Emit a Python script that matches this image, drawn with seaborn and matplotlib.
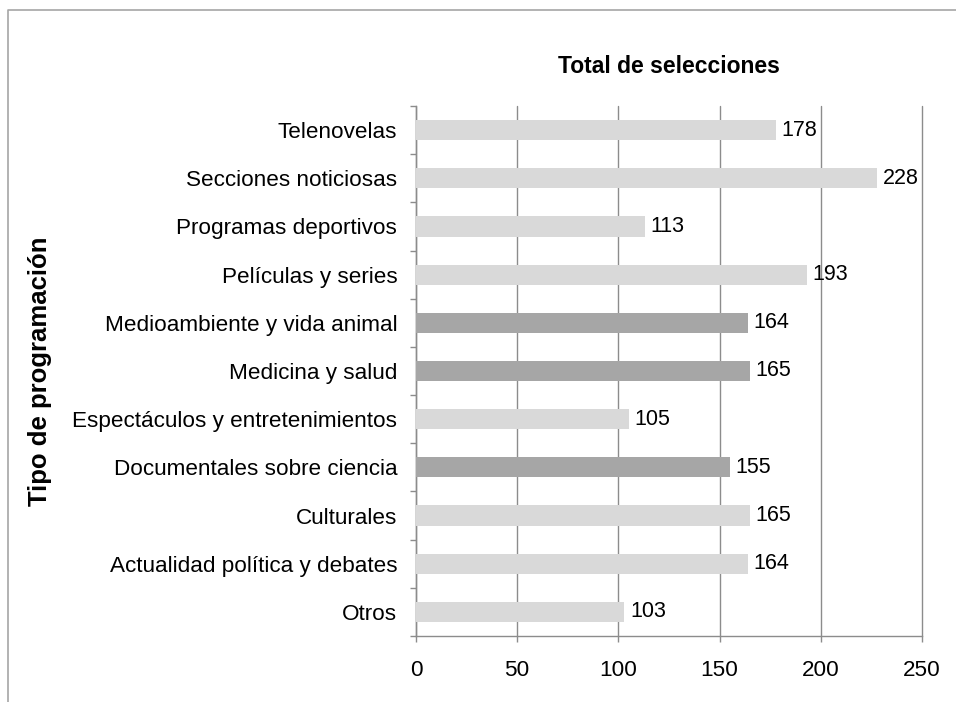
import matplotlib
matplotlib.use("Agg")
import matplotlib.pyplot as plt
import seaborn as sns
import pandas as pd
from matplotlib.lines import Line2D

# data (top to bottom)
categorias = [
    "Telenovelas",
    "Secciones noticiosas",
    "Programas deportivos",
    "Películas y series",
    "Medioambiente y vida animal",
    "Medicina y salud",
    "Espectáculos y entretenimientos",
    "Documentales sobre ciencia",
    "Culturales",
    "Actualidad política y debates",
    "Otros",
]
selecciones = [178, 228, 113, 193, 164, 165, 105, 155, 165, 164, 103]
destacados = ["Medioambiente y vida animal", "Medicina y salud", "Documentales sobre ciencia"]
x_ticks = [0, 50, 100, 150, 200, 250]

df = pd.DataFrame({"categoria": categorias, "total": selecciones})
palette = {c: ("#a6a6a6" if c in destacados else "#d9d9d9") for c in categorias}

sns.set_style("white")
plt.rcParams["font.family"] = ["Liberation Sans", "DejaVu Sans"]
plt.rcParams["text.color"] = "black"
plt.rcParams["axes.labelcolor"] = "black"
plt.rcParams["xtick.labelcolor"] = "black"
plt.rcParams["ytick.labelcolor"] = "black"

grid_col = "#8c8c8c"

fig = plt.figure(figsize=(9.56, 7.02), dpi=100)
ax = fig.add_axes([416 / 956, 1 - 636 / 702, 506 / 956, 530 / 702])

sns.barplot(
    data=df, y="categoria", x="total", hue="categoria", palette=palette,
    order=categorias, hue_order=categorias, legend=False,
    saturation=1, width=0.42, linewidth=0, ax=ax, zorder=3,
)

for cont in ax.containers:
    ax.bar_label(cont, fmt="%d", padding=4, fontsize=15.5, color="black")

ax.set_xlim(0, 250)
ax.set_ylim(len(categorias) - 0.5, -0.5)
ax.set_xticks(x_ticks)
ax.set_xticklabels([str(t) for t in x_ticks])
ax.xaxis.grid(True, color=grid_col, linewidth=1)
ax.set_axisbelow(True)
for gl in ax.get_xgridlines():
    gl.set_clip_on(False)

# category ticks sit between the bars, labels at the bar centres
ax.set_yticks(range(len(categorias)))
ax.set_yticks([i - 0.5 for i in range(len(categorias) + 1)], minor=True)
ax.tick_params(axis="y", which="major", length=0, pad=13.5, labelsize=16.2)
ax.tick_params(axis="y", which="minor", length=4.5, width=1, color=grid_col, left=True)
ax.tick_params(axis="x", which="major", length=4, width=1, color=grid_col,
               bottom=True, pad=13, labelsize=16.2)

for side in ["top", "right"]:
    ax.spines[side].set_visible(False)
for side in ["left", "bottom"]:
    ax.spines[side].set_color(grid_col)
    ax.spines[side].set_linewidth(1)

ax.set_xlabel("")
ax.set_ylabel("Tipo de programación", fontsize=18.5, fontweight="bold")
ax.yaxis.set_label_coords(-0.72, 0.5)
ax.set_title("Total de selecciones", fontsize=16.5, fontweight="bold", pad=24)

# chart area border (only left and top edges fall inside the image)
fig.add_artist(Line2D([8 / 956, 8 / 956, 1], [0, 1 - 10 / 702, 1 - 10 / 702],
                      transform=fig.transFigure, color="#a6a6a6", linewidth=1.2))

fig.savefig("out.png", dpi=100)
